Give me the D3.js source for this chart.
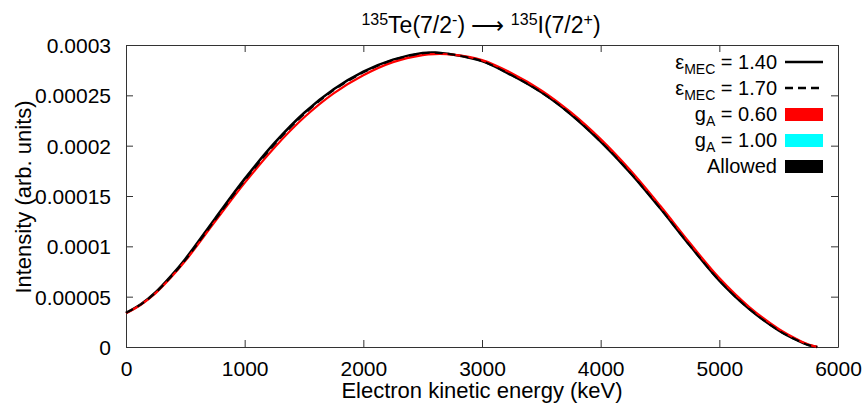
<!DOCTYPE html>
<html>
<head>
<meta charset="utf-8">
<script src="https://cdn.jsdelivr.net/npm/d3@7"></script>
<style>
  body { margin: 0; background: #fff; }
  svg text { font-family: "Liberation Sans", Arial, sans-serif; fill: #000; }
</style>
</head>
<body>
<div id="my_dataviz"></div>
<script>
// Chart size
const width = 866;
const height = 405;

// Electron kinetic energy grid (keV)
const energies = [0, 125, 250, 375, 500, 750, 1000, 1250, 1500, 1750, 2000, 2250, 2500, 2600, 2750,
    3000, 3250, 3500, 3750, 4000, 4250, 4500, 4750, 5000, 5250, 5500, 5650, 5750, 5825];

// Spectra (units of 1e-4)
const mec140 = [0.339, 0.425, 0.545, 0.70, 0.875, 1.275, 1.67, 2.025, 2.325, 2.56, 2.735, 2.855, 2.92, 2.925, 2.905,
    2.84, 2.70, 2.53, 2.31, 2.04, 1.73, 1.38, 1.01, 0.66, 0.38, 0.165, 0.07, 0.02, 0];
const mec170 = [0.338, 0.422, 0.54, 0.692, 0.865, 1.262, 1.655, 2.01, 2.312, 2.55, 2.727, 2.85, 2.917, 2.923, 2.905,
    2.84, 2.70, 2.53, 2.31, 2.04, 1.73, 1.38, 1.01, 0.66, 0.38, 0.165, 0.07, 0.02, 0];
const gA060 = [0.335, 0.42, 0.535, 0.685, 0.855, 1.245, 1.63, 1.98, 2.28, 2.52, 2.70, 2.83, 2.90, 2.91, 2.905,
    2.85, 2.72, 2.55, 2.33, 2.065, 1.755, 1.405, 1.035, 0.685, 0.40, 0.18, 0.08, 0.025, 0.002];

// Axis ticks
const xTicks = [0, 1000, 2000, 3000, 4000, 5000, 6000];
const yTicks = [0, 0.00005, 0.0001, 0.00015, 0.0002, 0.00025, 0.0003];
const yTickLabels = ["0", "0.00005", "0.0001", "0.00015", "0.0002", "0.00025", "0.0003"];

// Legend entries
const legendItems = [
    { sym: "ε", sub: "MEC", val: " = 1.40", type: "line" },
    { sym: "ε", sub: "MEC", val: " = 1.70", type: "dash" },
    { sym: "g", sub: "A", val: " = 0.60", type: "box", color: "#ff0000" },
    { sym: "g", sub: "A", val: " = 1.00", type: "box", color: "#00ffff" },
    { sym: "Allowed", sub: "", val: "", type: "box", color: "#000000" }
];

const svg = d3.select("#my_dataviz")
    .append("svg")
    .attr("width", width)
    .attr("height", height);

const x = d3.scaleLinear().domain([0, 6000]).range([126, 838]);
const y = d3.scaleLinear().domain([0, 0.0003]).range([347, 45]);

// Axes with inward ticks, mirrored on top and right
svg.append("g")
    .attr("transform", `translate(0, ${y(0)})`)
    .call(d3.axisBottom(x).tickValues(xTicks).tickFormat(d3.format("d"))
        .tickSizeInner(-7).tickSizeOuter(0).tickPadding(14))
    .call(g => g.selectAll("text").style("font-size", "21px"));

svg.append("g")
    .attr("transform", `translate(${x(0)}, 0)`)
    .call(d3.axisLeft(y).tickValues(yTicks).tickFormat((d, i) => yTickLabels[i])
        .tickSizeInner(-7).tickSizeOuter(0).tickPadding(15))
    .call(g => g.selectAll("text").style("font-size", "21px").attr("dy", "0.36em"));

svg.append("g")
    .attr("transform", `translate(0, ${y(0.0003)})`)
    .call(d3.axisTop(x).tickValues(xTicks).tickSizeInner(-7).tickSizeOuter(0).tickFormat(""));

svg.append("g")
    .attr("transform", `translate(${x(6000)}, 0)`)
    .call(d3.axisRight(y).tickValues(yTicks).tickSizeInner(-7).tickSizeOuter(0).tickFormat(""));

svg.selectAll(".domain").attr("stroke", "#333");
svg.selectAll(".tick line").attr("stroke", "#333");

// Curves
const line = d3.line()
    .x((d, i) => x(energies[i]))
    .y(d => y(d * 1e-4))
    .curve(d3.curveCatmullRom.alpha(0.5));

svg.append("path")
    .attr("d", line(mec140))
    .attr("fill", "none")
    .attr("stroke", "#000")
    .attr("stroke-width", 2.5);

svg.append("path")
    .attr("d", line(gA060))
    .attr("fill", "none")
    .attr("stroke", "#ff0000")
    .attr("stroke-width", 2.2);

svg.append("path")
    .attr("d", line(mec170))
    .attr("fill", "none")
    .attr("stroke", "#000")
    .attr("stroke-width", 2)
    .attr("stroke-dasharray", "8,5");

// Title
const title = svg.append("text")
    .attr("x", 481)
    .attr("y", 33)
    .attr("text-anchor", "middle")
    .style("font-size", "23px");
title.append("tspan").attr("dy", "-8").style("font-size", "16px").text("135");
title.append("tspan").attr("dy", "8").text("Te(7/2");
title.append("tspan").attr("dy", "-8").style("font-size", "16px").text("-");
title.append("tspan").attr("dy", "8").text(") \u27F6 ");
title.append("tspan").attr("dy", "-8").style("font-size", "16px").text("135");
title.append("tspan").attr("dy", "8").text("I(7/2");
title.append("tspan").attr("dy", "-8").style("font-size", "16px").text("+");
title.append("tspan").attr("dy", "8").text(")");

// Axis titles
svg.append("text")
    .attr("x", x(3000))
    .attr("y", 398)
    .attr("text-anchor", "middle")
    .style("font-size", "22px")
    .text("Electron kinetic energy (keV)");

svg.append("text")
    .attr("transform", "translate(31, 197) rotate(-90)")
    .attr("text-anchor", "middle")
    .style("font-size", "22px")
    .text("Intensity (arb. units)");

// Legend
const legend = svg.selectAll(".legend")
    .data(legendItems)
    .join("g")
    .attr("class", "legend")
    .attr("transform", (d, i) => `translate(0, ${62 + i * 26})`);

const lt = legend.append("text")
    .attr("x", 777)
    .attr("y", 7)
    .attr("text-anchor", "end")
    .style("font-size", "20px");
lt.append("tspan").text(d => d.sym);
lt.append("tspan").attr("dy", 5).style("font-size", "14px").text(d => d.sub);
lt.append("tspan").attr("dy", -5).text(d => d.val);

legend.filter(d => d.type !== "box").append("line")
    .attr("x1", 785).attr("x2", 823)
    .attr("y1", 0).attr("y2", 0)
    .attr("stroke", "#000")
    .attr("stroke-width", 2.5)
    .attr("stroke-dasharray", d => d.type === "dash" ? "8,5" : null);

legend.filter(d => d.type === "box").append("rect")
    .attr("x", 785).attr("y", -6)
    .attr("width", 38).attr("height", 13)
    .attr("fill", d => d.color);
</script>
</body>
</html>
